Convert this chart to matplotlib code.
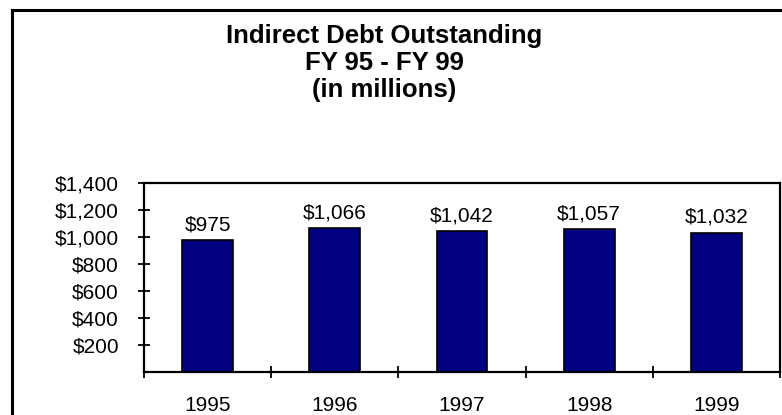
import matplotlib
matplotlib.use("Agg")
import matplotlib.pyplot as plt
from matplotlib.lines import Line2D
import numpy as np

plt.rcParams['font.family'] = ['Liberation Sans', 'DejaVu Sans']

years = ["1995", "1996", "1997", "1998", "1999"]
debt = [975, 1066, 1042, 1057, 1032]
y_ticks = [200, 400, 600, 800, 1000, 1200, 1400]

W, H = 782, 415
fig = plt.figure(figsize=(W / 100, H / 100), dpi=100)
fig.patch.set_facecolor("white")

# outer chart frame (left and top edges)
fig.add_artist(Line2D([12 / W, 12 / W], [0, 1 - 10 / H], transform=fig.transFigure,
                      color="black", lw=2.2))
fig.add_artist(Line2D([12 / W, 1], [1 - 10 / H, 1 - 10 / H], transform=fig.transFigure,
                      color="black", lw=2.2))

left, right, top, bottom = 144, 780, 183, 372
ax = fig.add_axes([left / W, 1 - bottom / H, (right - left) / W, (bottom - top) / H])

x = np.arange(len(years))
ax.bar(x, debt, width=0.4, color="#000080", edgecolor="black", linewidth=1.2)

for xi, v in zip(x, debt):
    ax.text(xi, v + 45, f"${v:,}", ha="center", va="bottom", fontsize=15)

ax.set_xlim(-0.5, len(years) - 0.5)
ax.set_ylim(0, 1400)

ax.set_yticks(y_ticks)
ax.set_yticklabels([f"${t:,}" for t in y_ticks], fontsize=15)
ax.tick_params(axis="y", direction="inout", length=9, width=1.3, pad=13.5)

ax.set_xticks(x)
ax.set_xticklabels(years, fontsize=15)
ax.set_xticks(np.arange(-0.5, len(years)), minor=True)
ax.tick_params(axis="x", which="major", length=0, pad=17)
ax.tick_params(axis="x", which="minor", direction="inout", length=9, width=1.3)

for s in ax.spines.values():
    s.set_linewidth(1.6)

fig.text(384 / W, 1 - 63 / H, "Indirect Debt Outstanding\nFY 95 - FY 99\n(in millions)",
         ha="center", va="center", fontsize=18.5, fontweight="bold", linespacing=1.15)

fig.savefig("out.png", dpi=100)
